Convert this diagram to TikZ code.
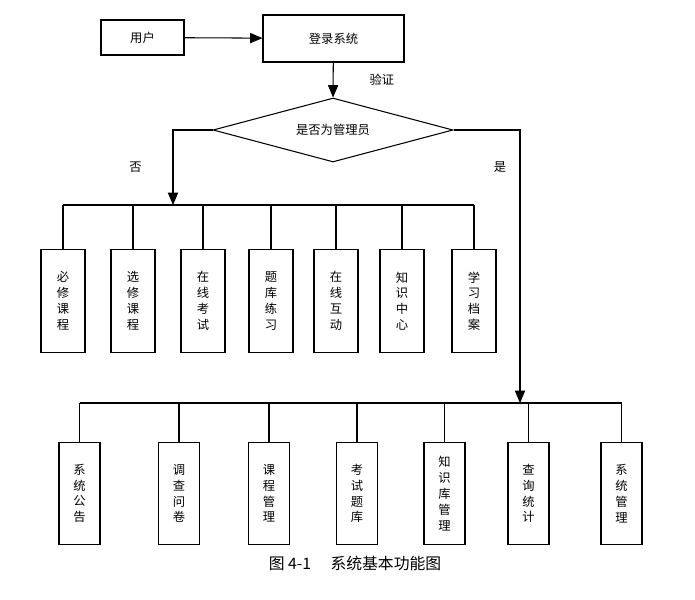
\documentclass[tikz,border=0pt]{standalone}
\usepackage{fontspec}
\setmainfont{Liberation Serif}
\newfontfamily\cjk{Noto Sans CJK SC}
\usetikzlibrary{arrows, calc, shapes.geometric}
\tikzset{
	box/.style = {draw, semithick, inner sep=0pt, font=\cjk\fontsize{7pt}{9pt}\selectfont},
	vbox/.style = {box, minimum width=0.88cm, minimum height=2.05cm, align=center},
	lbl/.style = {font=\cjk\fontsize{7pt}{9pt}\selectfont}
}
\begin{document}
\begin{tikzpicture}[x=0.02cm, y=-0.02cm, >=triangle 45]
	\useasboundingbox (0,0) rectangle (695,599);
	\node[box, minimum width=1.66cm, minimum height=0.7cm] (user) at (142.5,37.5) {用户};
	\node[box, minimum width=2.82cm, minimum height=0.94cm] (login) at (333.5,38.5) {登录系统};
	\node[box, diamond, aspect=3.75, minimum width=4.8cm, minimum height=1.28cm] (admin) at (333,130) {是否为管理员};
	\draw[semithick, ->] (user) -- (login);
	\draw[semithick, ->] (login) -- (admin.north) node[lbl, midway, right=6mm] {验证};
	\coordinate (up) at (173,205);
	\coordinate (lo) at (520,403);
	\draw[semithick, ->] (admin.west) -| (up) node[lbl, pos=0.75, left=5mm] {否};
	\draw[semithick, ->] (admin.east) -| (lo);
	\node[lbl] (yes) at (500,167) {是};
	% student side
	\foreach \x/\t [count=\i] in {63/必\\修\\课\\程, 133/选\\修\\课\\程, 203/在\\线\\考\\试, 271/题\\库\\练\\习, 336/在\\线\\互\\动, 402/知\\识\\中\\心, 474/学\\习\\档\\案} {
		\node[vbox] (s\i) at (\x,301) {\t};
		\draw[semithick] (s\i.north) -- (s\i.north |- up);
	}
	\draw[semithick] (s1.north |- up) -- (s7.north |- up);
	% admin side
	\foreach \x/\t [count=\i] in {79.5/系\\统\\公\\告, 179/调\\查\\问\\卷, 269/课\\程\\管\\理, 357/考\\试\\题\\库, 444.5/知\\识\\库\\管\\理, 528.5/查\\询\\统\\计, 621.5/系\\统\\管\\理} {
		\node[vbox, minimum width=0.82cm] (a\i) at (\x,493.5) {\t};
		\draw[semithick] (a\i.north) -- (a\i.north |- lo);
	}
	\draw[semithick] (a1.north |- lo) -- (a7.north |- lo);
	\node[font=\cjk\fontsize{9pt}{11pt}\selectfont] (cap) at (355,563) {图 4-1\quad\ 系统基本功能图};
\end{tikzpicture}
\end{document}
